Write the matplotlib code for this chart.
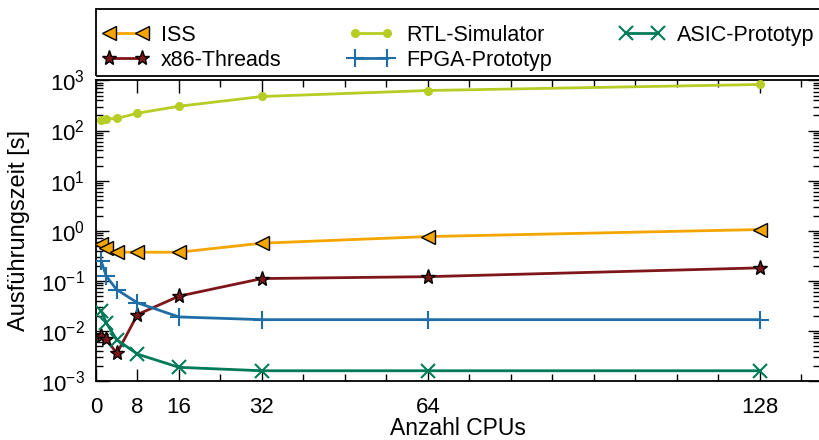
import matplotlib
matplotlib.use("Agg")
import matplotlib.pyplot as plt
from matplotlib.patches import Rectangle
from matplotlib.ticker import FixedLocator, MultipleLocator, LogLocator, NullFormatter

plt.rcParams['font.family'] = ['Liberation Sans', 'DejaVu Sans']
plt.rcParams['mathtext.fontset'] = 'custom'
plt.rcParams['mathtext.rm'] = 'Liberation Sans'
plt.rcParams['mathtext.it'] = 'Liberation Sans:italic'
plt.rcParams['mathtext.bf'] = 'Liberation Sans:bold'

# Anzahl CPUs
cpus = [1, 2, 4, 8, 16, 32, 64, 128]

# Ausführungszeit [s]
iss = [0.54, 0.45, 0.37, 0.37, 0.37, 0.56, 0.76, 1.05]
x86 = [0.0077, 0.0068, 0.0035, 0.021, 0.049, 0.11, 0.12, 0.18]
rtl = [166, 171, 174, 222, 306, 479, 631, 832]
fpga = [0.244, 0.122, 0.066, 0.036, 0.0188, 0.0166, 0.0166, 0.0166]
asic = [0.025, 0.0142, 0.0066, 0.0034, 0.00185, 0.00158, 0.00158, 0.00158]

xticks = [0, 8, 16, 32, 64, 128]
yticks = [1e-3, 1e-2, 1e-1, 1e0, 1e1, 1e2, 1e3]

W, H = 820, 440
fig = plt.figure(figsize=(W / 100, H / 100), dpi=100)
ax = fig.add_axes([96 / W, 59.3 / H, 1.0 - 96 / W, 300.2 / H])

lw = 2.0
ax.plot(cpus, iss, color='#F5A500', lw=lw, marker='<', ms=10, mfc='#F5A500',
        mec='black', mew=1.0, label='ISS', zorder=3)
ax.plot(cpus, x86, color='#7E1619', lw=lw, marker='*', ms=11, mfc='#7E1619',
        mec='black', mew=1.0, label='x86-Threads', zorder=3)
ax.plot(cpus, rtl, color='#B7CC25', lw=lw, marker='o', ms=5.5, mfc='#B7CC25',
        mec='#B7CC25', label='RTL-Simulator', zorder=3)
ax.plot(cpus, fpga, color='#1F6EA8', lw=lw, marker='+', ms=13, mew=1.5,
        label='FPGA-Prototyp', zorder=3)
ax.plot(cpus, asic, color='#007A58', lw=lw, marker='x', ms=10, mew=1.5,
        label='ASIC-Prototyp', zorder=3)

ax.set_yscale('log')
ax.set_ylim(yticks[0], yticks[-1])
ax.set_xlim(0, 139.6)

ax.xaxis.set_major_locator(FixedLocator(xticks))
ax.xaxis.set_minor_locator(MultipleLocator(8))
ax.yaxis.set_major_locator(FixedLocator(yticks))
ax.yaxis.set_minor_locator(LogLocator(base=10, subs=range(2, 10), numticks=20))
ax.yaxis.set_minor_formatter(NullFormatter())

ax.tick_params(which='both', direction='in', top=True, right=True,
               labelsize=16, width=1.0, color='black')
ax.tick_params(which='major', length=9)
ax.tick_params(axis='x', which='major', pad=12)
ax.tick_params(axis='y', which='major', pad=8)
ax.tick_params(which='minor', length=5)
for s in ax.spines.values():
    s.set_linewidth(1.3)

ax.set_xlabel('Anzahl CPUs', fontsize=16.5, labelpad=-1)
ax.set_ylabel('Ausführungszeit [s]', fontsize=17, labelpad=8)

# legend frame spanning the full width above the plot
fig.patches.append(Rectangle((96 / W, 1 - 76 / H), 1.0, 67 / H,
                             transform=fig.transFigure, fill=False,
                             edgecolor='black', linewidth=1.3))

leg = fig.legend(loc='upper left', bbox_to_anchor=(103 / W, 1 - 25 / H),
                 ncol=3, numpoints=2, handlelength=2.1, handletextpad=0.6,
                 columnspacing=3.1, fontsize=15.5, frameon=False,
                 borderaxespad=0.0, borderpad=0.0, labelspacing=0.18)

fig.savefig('out.png', dpi=100)
